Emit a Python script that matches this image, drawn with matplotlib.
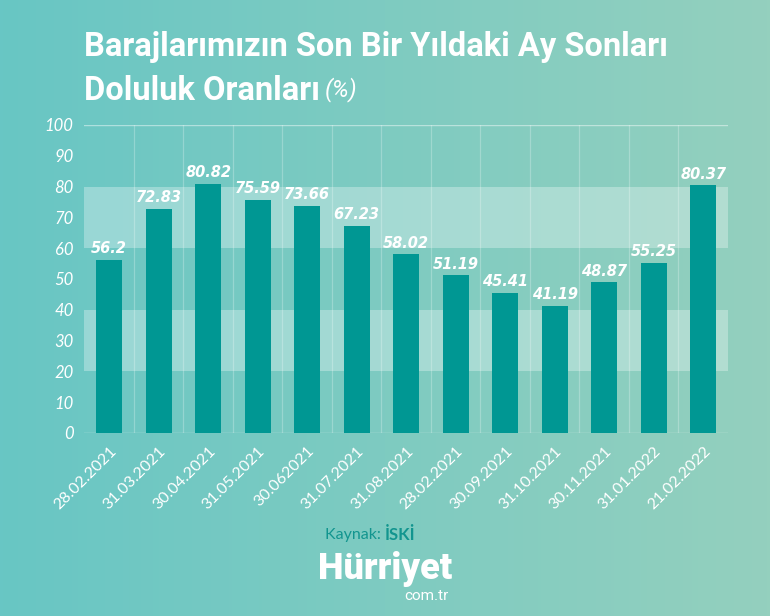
import matplotlib
matplotlib.use("Agg")
import matplotlib.pyplot as plt
import numpy as np

# data
dates = ["28.02.2021", "31.03.2021", "30.04.2021", "31.05.2021", "30.062021",
         "31.07.2021", "31.08.2021", "28.02.2021", "30.09.2021", "31.10.2021",
         "30.11.2021", "31.01.2022", "21.02.2022"]
values = [56.2, 72.83, 80.82, 75.59, 73.66, 67.23, 58.02, 51.19, 45.41,
          41.19, 48.87, 55.25, 80.37]
y_ticks = [0, 10, 20, 30, 40, 50, 60, 70, 80, 90, 100]
bands = [(20, 40), (60, 80)]

fig = plt.figure(figsize=(7.7, 6.16), dpi=100)

# background gradient (left teal -> right greenish)
bg = fig.add_axes([0, 0, 1, 1], zorder=-10)
left_c = np.array([104, 198, 196]) / 255
right_c = np.array([148, 208, 190]) / 255
t = np.linspace(0, 1, 256)[None, :, None]
grad = left_c * (1 - t) + right_c * t
bg.imshow(grad, aspect="auto", extent=[0, 1, 0, 1])
bg.axis("off")

ax = fig.add_axes([0.1097, 0.2971, 0.8357, 0.5])
ax.patch.set_alpha(0)
x = np.arange(len(values))

# light bands
for lo, hi in bands:
    ax.axhspan(lo, hi, color="white", alpha=0.3, lw=0, zorder=2)

# vertical separators between categories
for k in range(1, len(values)):
    ax.axvline(k - 0.5, color="white", alpha=0.25, lw=0.9, zorder=1)
ax.axhline(100, color="white", alpha=0.45, lw=1, zorder=1)
ax.axhline(0, color="white", alpha=0.45, lw=1, zorder=1)

ax.bar(x, values, width=0.52, color="#009793", zorder=3)

for xi, v in zip(x, values):
    ax.text(xi, v + 1.2, f"{v:g}", ha="center", va="bottom", color="white",
            fontsize=10.5, fontweight="bold", fontstyle="italic",
            family="DejaVu Sans", zorder=4)

ax.set_xlim(-0.5, len(values) - 0.5)
ax.set_ylim(0, 100)
ax.set_yticks(y_ticks)
ax.set_yticklabels([str(v) for v in y_ticks], color="white", fontsize=12,
                   fontstyle="italic", family="Lato")
ax.set_xticks(x)
ax.set_xticklabels(dates, rotation=45, ha="right", rotation_mode="anchor",
                   color="white", fontsize=11.5, family="Lato")
ax.tick_params(length=0, pad=8)
for s in ax.spines.values():
    s.set_visible(False)

# title
fig.text(0.109, 0.924, "Barajlarımızın Son Bir Yıldaki Ay Sonları", color="white",
         fontsize=23.5, fontweight="bold", family="Roboto", va="center")
t2 = fig.text(0.109, 0.853, "Doluluk Oranları", color="white",
              fontsize=23.5, fontweight="bold", family="Roboto", va="center")
fig.canvas.draw()
bb = t2.get_window_extent()
fig.text(bb.x1 / 770 + 0.006, 0.855, "(%)", color="white", fontsize=17,
         fontstyle="italic", family="Roboto", va="center")

# source
fig.text(0.5, 0.132, "Kaynak: ", color="#12958f", fontsize=11.5, family="Lato",
         ha="right", va="center")
fig.text(0.5, 0.132, "İSKİ", color="#12958f", fontsize=12, family="Lato",
         fontweight="bold", ha="left", va="center")

# logo
fig.text(0.5, 0.076, "Hürriyet", color="white", fontsize=26, fontweight="heavy",
         family="Roboto", ha="center", va="center")
fig.text(0.582, 0.033, "com.tr", color="white", fontsize=11, family="Roboto",
         ha="right", va="center")

fig.savefig("out.png", dpi=100)
